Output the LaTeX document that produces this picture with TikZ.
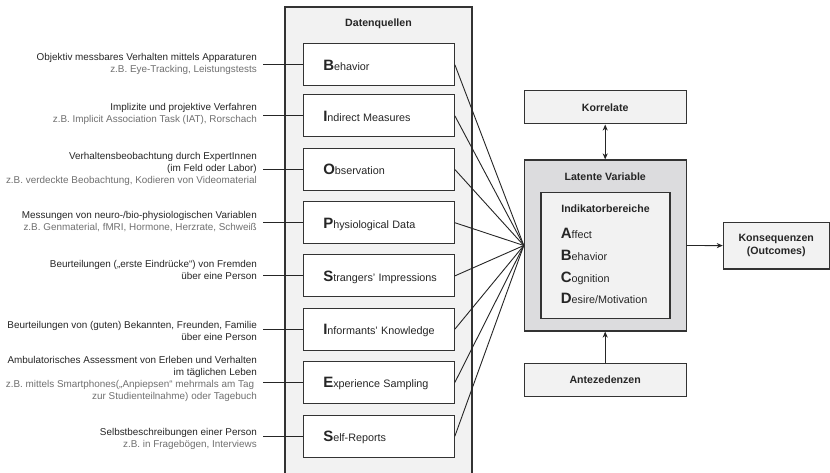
\documentclass[tikz,border=0pt]{standalone}
\usepackage{fontspec}
\setmainfont{Liberation Sans}
\usetikzlibrary{arrows.meta}
\definecolor{ink}{HTML}{262626}
\definecolor{graytext}{HTML}{707070}
\definecolor{panel}{HTML}{F2F2F2}
\definecolor{latentfill}{HTML}{DCDCDE}
\definecolor{edgecol}{HTML}{333333}
\newcommand\initial[2]{\mbox{{\fontsize{15}{15}\selectfont\bfseries #1}{\fontsize{10.8}{12}\selectfont #2}}}
\newcommand\bigini[2]{\mbox{{\fontsize{15}{15}\selectfont\bfseries #1}{\fontsize{10.8}{12}\selectfont #2}}}
\newcommand\gl[1]{\textcolor{graytext}{#1}}
\tikzset{
  srcbox/.style={draw=edgecol, line width=1.1pt, fill=white, minimum width=151pt,
    minimum height=42pt, text width=111pt, inner xsep=20pt, inner ysep=0pt,
    align=left, text height=10.7pt, text depth=0pt, text=ink},
  desc/.style={anchor=east, align=right, inner xsep=6pt, inner ysep=0pt, text=ink,
    font=\fontsize{9.9}{12}\selectfont},
  plainbox/.style={draw=edgecol, line width=1.1pt, fill=panel, inner sep=0pt, text=ink,
    font=\fontsize{10.6}{13}\selectfont\bfseries, align=center},
  titletext/.style={inner sep=0pt, text=ink, font=\fontsize{10.6}{13}\selectfont\bfseries},
  itemtext/.style={anchor=west, inner sep=0pt, text=ink, text height=10.8pt, text depth=0pt},
  fanline/.style={draw=ink, line width=0.9pt},
  conn/.style={draw=ink, line width=0.9pt},
  arr/.style={draw=ink, line width=0.9pt, -{Stealth[length=6pt,width=5pt,inset=1.8pt]}},
  darr/.style={draw=ink, line width=0.9pt, {Stealth[length=6pt,width=5pt,inset=1.8pt]}-{Stealth[length=6pt,width=5pt,inset=1.8pt]}}
}
\begin{document}
\begin{tikzpicture}[x=1pt,y=-1pt]
\useasboundingbox[fill=white] (0,0) rectangle (830,473);

% Datenquellen panel (open at the bottom)
\fill[panel] (285,7) rectangle (472,473);
\draw[edgecol, line width=1.1pt] (285,473) -- (285,7) -- (472,7) -- (472,473);
\node[titletext] (dqtitle) at (378.5,24) {Datenquellen};

% source boxes
\node[srcbox] (s1) at (378.8,64.7) {\initial{B}{ehavior}};
\node[srcbox] (s2) at (378.8,115.8) {\initial{I}{ndirect Measures}};
\node[srcbox] (s3) at (378.8,169.5) {\initial{O}{bservation}};
\node[srcbox] (s4) at (378.8,222.7) {\initial{P}{hysiological Data}};
\node[srcbox] (s5) at (378.8,275.9) {\initial{S}{trangers' Impressions}};
\node[srcbox] (s6) at (378.8,329.2) {\initial{I}{nformants' Knowledge}};
\node[srcbox] (s7) at (378.8,382.5) {\initial{E}{xperience Sampling}};
\node[srcbox] (s8) at (378.8,436.2) {\initial{S}{elf-Reports}};

% descriptions
\node[desc] (d1) at (263,63.5) {Objektiv messbares Verhalten mittels Apparaturen\\\gl{z.B. Eye-Tracking, Leistungstests}};
\node[desc] (d2) at (263,113.5) {Implizite und projektive Verfahren\\\gl{z.B. Implicit Association Task (IAT), Rorschach}};
\node[desc] (d3) at (263,168.5) {Verhaltensbeobachtung durch ExpertInnen\\(im Feld oder Labor)\\\gl{z.B. verdeckte Beobachtung, Kodieren von Videomaterial}};
\node[desc] (d4) at (263,222) {Messungen von neuro-/bio-physiologischen Variablen\\\gl{z.B. Genmaterial, fMRI, Hormone, Herzrate, Schweiß}};
\node[desc] (d5) at (263,269.5) {Beurteilungen („erste Eindrücke“) von Fremden\\über eine Person};
\node[desc] (d6) at (263,331) {Beurteilungen von (guten) Bekannten, Freunden, Familie\\über eine Person};
\node[desc] (d7) at (263,379) {Ambulatorisches Assessment von Erleben und Verhalten\\im täglichen Leben\\\gl{z.B. mittels Smartphones(„Anpiepsen“ mehrmals am Tag }\\\gl{zur Studienteilnahme) oder Tagebuch}};
\node[desc] (d8) at (263,439) {Selbstbeschreibungen einer Person\\\gl{z.B. in Fragebögen, Interviews}};

\foreach \i in {1,...,8}{
  \draw[conn] (s\i.west -| d\i.east) -- (s\i.west);
}

% latent variable
\node[draw=edgecol, line width=1.1pt, fill=latentfill, minimum width=161.7pt, minimum height=171pt, inner sep=0pt] (lat) at (605.2,245.5) {};
\node[titletext] (lattitle) at (605.2,176.7) {Latente Variable};
\node[draw=edgecol, line width=1.1pt, fill=panel, minimum width=129pt, minimum height=126pt, inner sep=0pt] (ind) at (605.5,255.3) {};
\node[titletext] (indtitle) at (605.5,208.3) {Indikatorbereiche};
\node[itemtext] (ia) at (560.7,233.3) {\bigini{A}{ffect}};
\node[itemtext] (ib) at (560.7,255) {\bigini{B}{ehavior}};
\node[itemtext] (ic) at (560.7,276.6) {\bigini{C}{ognition}};
\node[itemtext] (id) at (560.7,298.3) {\bigini{D}{esire/Motivation}};

% other boxes
\node[plainbox, minimum width=161.7pt, minimum height=33.3pt] (korr) at (605.2,107.3) {Korrelate};
\node[plainbox, minimum width=161.7pt, minimum height=33.3pt] (ante) at (605.2,380) {Antezedenzen};
\node[plainbox, minimum width=105.7pt, minimum height=46.7pt] (kons) at (776.2,245.6) {Konsequenzen\\(Outcomes)};

% fan
\foreach \i in {1,...,8}{
  \draw[fanline] (s\i.east) -- (lat.west);
}

% arrows
\draw[darr] (korr.south) -- (lat.north);
\draw[arr] (ante.north) -- (lat.south);
\draw[arr] (lat.east) -- (kons.west);
\end{tikzpicture}
\end{document}
